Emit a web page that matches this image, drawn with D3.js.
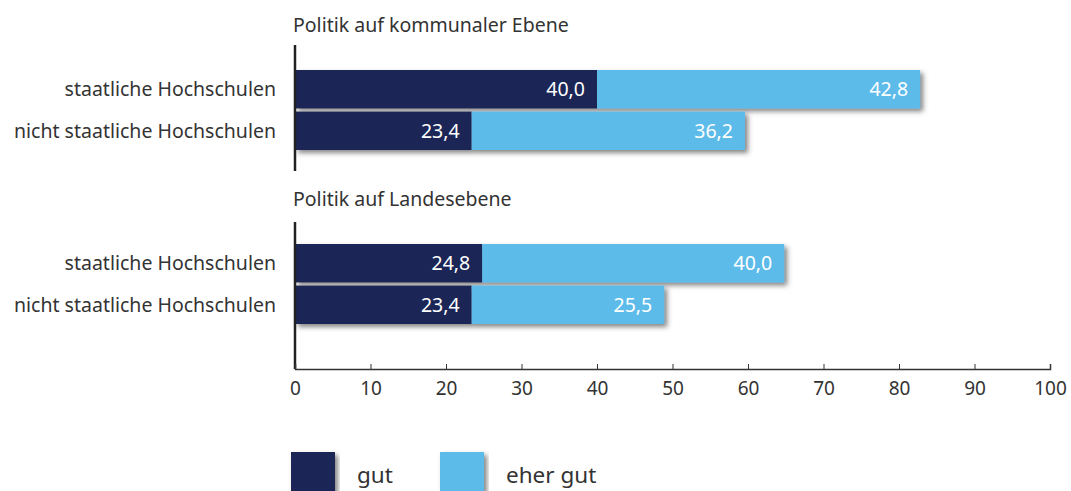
<!DOCTYPE html>
<html>
<head>
<meta charset="utf-8">
<script src="https://cdn.jsdelivr.net/npm/d3@7"></script>
<style>
    body { margin: 0; background: #fff; }
    text { font-family: "Noto Sans", sans-serif; fill: #333; }
</style>
</head>
<body>
<div id="chart"></div>
<script>
// data
const groups = ["Politik auf kommunaler Ebene", "Politik auf Landesebene"];
const categories = ["staatliche Hochschulen", "nicht staatliche Hochschulen"];
const series = ["gut", "eher gut"];
const gutValues = [[40.0, 23.4], [24.8, 23.4]];
const eherGutValues = [[42.8, 36.2], [40.0, 25.5]];
const xTicks = [0, 10, 20, 30, 40, 50, 60, 70, 80, 90, 100];
const colors = ["#1f2757", "#5dbbea"];

const width = 1071, height = 491;

const svg = d3.select("#chart").append("svg")
    .attr("width", width)
    .attr("height", height);

// drop shadow
const defs = svg.append("defs");
const filter = defs.append("filter")
    .attr("id", "shadow")
    .attr("x", "-5%").attr("y", "-30%")
    .attr("width", "115%").attr("height", "170%");
filter.append("feDropShadow")
    .attr("dx", 3).attr("dy", 3)
    .attr("stdDeviation", 2.5)
    .attr("flood-color", "#444")
    .attr("flood-opacity", 0.65);

// scales
const x = d3.scaleLinear().domain([0, 100]).range([295, 1050]);
const yGroup = d3.scalePoint().domain(groups).range([70, 244]);
const yRow = d3.scaleBand().domain(categories).range([0, 80]).paddingInner(0.075);

let rows = [];
groups.forEach((g, gi) => {
    categories.forEach((c, ci) => {
        rows.push({group: g, cat: c, values: [gutValues[gi][ci], eherGutValues[gi][ci]]});
    });
});

// bars
const rowG = svg.selectAll(".row")
    .data(rows)
    .enter().append("g")
    .attr("class", "row")
    .attr("transform", d => `translate(0, ${yGroup(d.group) + yRow(d.cat)})`);

rowG.append("g")
    .attr("filter", "url(#shadow)")
    .selectAll("rect")
    .data(d => {
        let start = 0;
        return d.values.map((v, i) => { let s = {x0: start, x1: start + v, v: v, i: i}; start += v; return s; });
    })
    .enter().append("rect")
    .attr("x", d => x(d.x0))
    .attr("width", d => x(d.x1) - x(d.x0))
    .attr("y", 0)
    .attr("height", yRow.bandwidth())
    .attr("fill", d => colors[d.i]);

rowG.selectAll(".val")
    .data(d => {
        let start = 0;
        return d.values.map((v, i) => { start += v; return {end: start, v: v}; });
    })
    .enter().append("text")
    .attr("class", "val")
    .attr("x", d => x(d.end) - 12)
    .attr("y", yRow.bandwidth() / 2)
    .attr("dy", "0.36em")
    .attr("text-anchor", "end")
    .style("fill", "#fff")
    .style("font-size", "19.5px")
    .text(d => d.v.toFixed(1).replace(".", ","));

// category labels
rowG.append("text")
    .attr("x", 276)
    .attr("y", yRow.bandwidth() / 2)
    .attr("dy", "0.36em")
    .attr("text-anchor", "end")
    .style("font-size", "19.5px")
    .text(d => d.cat);

// group titles
svg.selectAll(".gtitle")
    .data(groups)
    .enter().append("text")
    .attr("class", "gtitle")
    .attr("x", 293)
    .attr("y", d => yGroup(d) - 38)
    .style("font-size", "19.5px")
    .text(d => d);

// left axis line, broken by the second title
const axisY = 369;
svg.append("line")
    .attr("x1", x(0)).attr("x2", x(0))
    .attr("y1", 45).attr("y2", 171)
    .attr("stroke", "#222").attr("stroke-width", 2.5);
svg.append("line")
    .attr("x1", x(0)).attr("x2", x(0))
    .attr("y1", 222).attr("y2", axisY)
    .attr("stroke", "#222").attr("stroke-width", 2.5);

// x axis
const xAxis = d3.axisBottom(x).tickValues(xTicks).tickSize(-5).tickPadding(13).tickFormat(d3.format("d"));
const xg = svg.append("g")
    .attr("class", "x-axis")
    .attr("transform", `translate(0, ${axisY})`)
    .call(xAxis);
xg.select(".domain").attr("stroke", "#333").attr("stroke-width", 1.5);
xg.selectAll(".tick line").attr("stroke", "#333");
xg.selectAll(".tick text")
    .style("font-size", "19px")
    .style("font-family", "'Noto Sans', sans-serif")
    .attr("fill", "#333");

// legend
const legendX = d3.scaleOrdinal().domain(series).range([291, 440]);
const leg = svg.selectAll(".legend")
    .data(series)
    .enter().append("g")
    .attr("class", "legend")
    .attr("transform", d => `translate(${legendX(d)}, 452)`);
leg.append("rect")
    .attr("width", 44).attr("height", 44)
    .attr("fill", (d, i) => colors[i])
    .attr("filter", "url(#shadow)");
leg.append("text")
    .attr("x", 66)
    .attr("y", 31)
    .style("font-size", "22.5px")
    .text(d => d);
</script>
</body>
</html>
